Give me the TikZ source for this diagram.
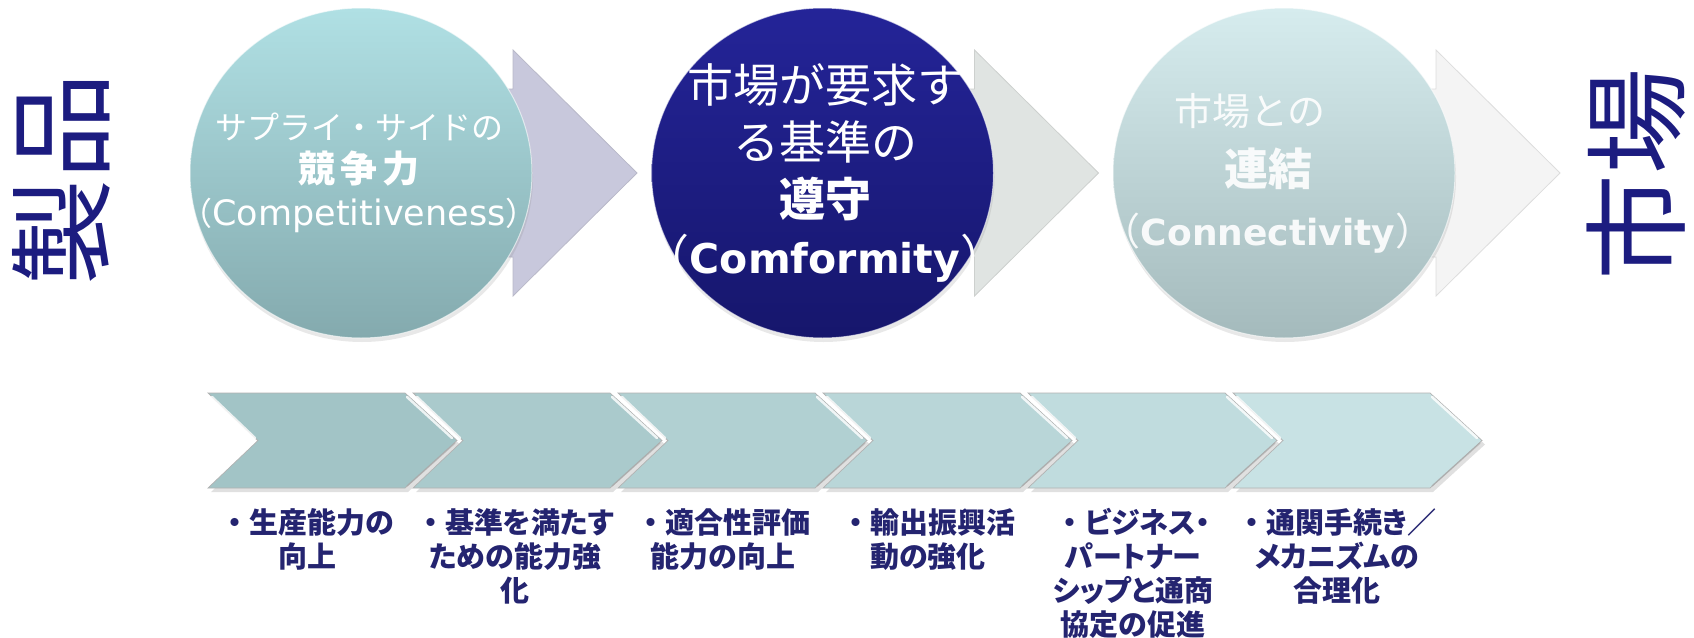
\documentclass[tikz,border=0pt]{standalone}
\usepackage{fontspec}
\setmainfont{Noto Sans CJK JP}
\newfontfamily\jpp{Noto Sans CJK JP}[RawFeature=+palt]
\newfontfamily\lat{DejaVu Sans}
\usetikzlibrary{shapes.geometric,shadows}
\definecolor{navyT}{RGB}{28,28,128}
\definecolor{navyB}{RGB}{36,36,112}
\definecolor{c1top}{RGB}{176,224,228}
\definecolor{c1bot}{RGB}{132,170,174}
\definecolor{c2top}{RGB}{36,36,152}
\definecolor{c2bot}{RGB}{22,22,108}
\definecolor{c3top}{RGB}{214,236,238}
\definecolor{c3bot}{RGB}{164,186,188}
\definecolor{arA}{RGB}{200,200,220}
\definecolor{arB}{RGB}{224,228,226}
\definecolor{arC}{RGB}{244,244,244}
\definecolor{chevA}{RGB}{162,196,198}
\definecolor{chevB}{RGB}{200,226,228}
\newcommand\bulletmark{{\rmfamily ・}}
\begin{document}
\begin{tikzpicture}[x=1pt,y=-1pt,
  disc/.style={draw=white, draw opacity=0.6, line width=1pt,
    drop shadow={shadow xshift=1pt, shadow yshift=-4pt, opacity=0.18}},
  ctext/.style={inner sep=0pt, align=center, text=white},
  sidetext/.style={rotate=90, inner sep=0pt, text=navyT, font=\fontsize{106}{106}\selectfont},
  bt/.style={font=\jpp\bfseries\fontsize{29}{34}\selectfont, text=navyB, align=center,
    inner sep=0pt, anchor=north}]
\fill[white] (0,0) rectangle (1694,637);
\useasboundingbox (0,0) rectangle (1694,637);

% block arrows behind the circles
\foreach \cx/\col in {361/arA, 822.5/arB, 1284/arC} {
  \filldraw[fill=\col, draw=\col!80!gray, line width=0.8pt]
    (\cx,89) -- (\cx+152,89) -- (\cx+152,50) -- (\cx+276,173) -- (\cx+152,296)
    -- (\cx+152,257) -- (\cx,257) -- cycle;
}

% circles
\path[disc, top color=c1top, bottom color=c1bot] (361,173) ellipse [x radius=171, y radius=165];
\path[disc, top color=c2top, bottom color=c2bot] (822.5,173) ellipse [x radius=171, y radius=165];
\path[disc, top color=c3top, bottom color=c3bot] (1284,173) ellipse [x radius=171, y radius=165];

\node[ctext, font=\fontsize{32}{43}\selectfont] (c1) at (359,173)
  {サプライ・サイドの\\{\bfseries\fontsize{37}{43}\selectfont 競\hspace{5pt}争\hspace{5pt}力}\\（{\lat\fontsize{35}{43}\selectfont Competitiveness}）};
\node[ctext, font=\fontsize{46}{57}\selectfont] (c2) at (825,173)
  {市場が要求す\\る基準の\\\textbf{遵守}\\（{\lat\bfseries\fontsize{41}{57}\selectfont Comformity}）};
\node[ctext, text opacity=0.9, font=\fontsize{38}{60}\selectfont] (c3) at (1268,173)
  {市場との\hspace*{36pt}\\{\bfseries\fontsize{44}{60}\selectfont 連結}\\（{\lat\bfseries\fontsize{36}{60}\selectfont Connectivity}）};

% side labels
\node[sidetext] (seihin) at (61,179) {製品};
\node[sidetext] (shijo) at (1636,174) {市場};

% chevrons
\foreach \k in {0,...,5} {
  \pgfmathsetmacro\xo{208+205*\k}
  \pgfmathtruncatemacro\pc{\k*20}
  \fill[black, opacity=0.12] (\xo+3,397) -- ++(197,0) -- ++(52,47.5) -- ++(-52,47.5)
    -- ++(-197,0) -- ++(50,-47.5) -- cycle;
  \filldraw[fill=chevB!\pc!chevA, draw=gray!60, line width=0.7pt] (\xo,393) -- ++(197,0)
    -- ++(52,47.5) -- ++(-52,47.5) -- ++(-197,0) -- ++(50,-47.5) -- cycle;
  \draw[white, line width=2.5pt, opacity=0.8, line cap=round] (\xo+199,397) -- (\xo+244,438);
  \draw[white, line width=2.5pt, opacity=0.8, line cap=round] (\xo+4,397) -- (\xo+47,438);
  \draw[gray!70, line width=1.5pt, opacity=0.6] (\xo+247,443) -- (\xo+199,486);
}

% bottom texts
\node[bt] (b1) at (307,508) {\bulletmark 生産能力の\\向上};
\node[bt] (b2) at (515,508) {\bulletmark 基準を満たす\\ための能力強\\化};
\node[bt] (b3) at (723,508) {\bulletmark 適合性評価\\能力の向上};
\node[bt] (b4) at (928,508) {\bulletmark 輸出振興活\\動の強化};
\node[bt] (b5) at (1133,508) {\bulletmark ビジネス・\\パートナー\\シップと通商\\協定の促進};
\node[bt] (b6) at (1337,508) {\bulletmark 通関手続き／\\メカニズムの\\合理化};
\end{tikzpicture}
\end{document}
